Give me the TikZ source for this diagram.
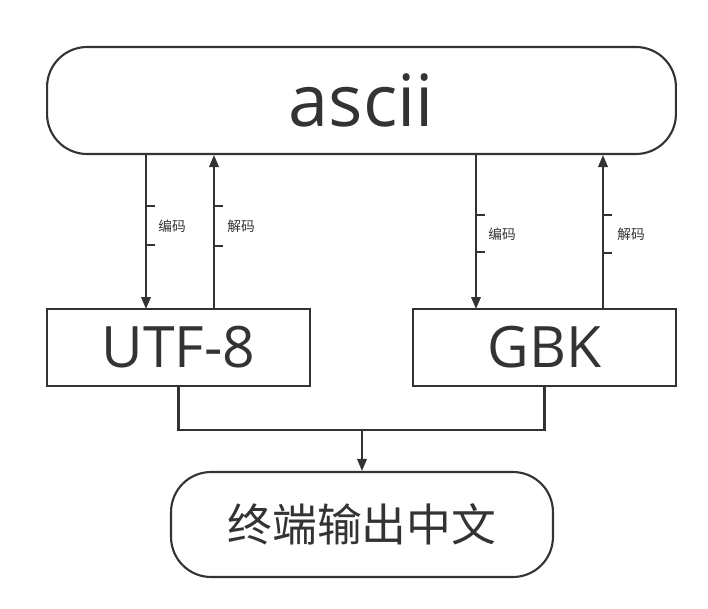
\documentclass[tikz,border=0pt]{standalone}
\usepackage{fontspec}
\setmainfont{Open Sans}
\newfontfamily\cjk{Noto Sans CJK SC}
\usetikzlibrary{arrows.meta}
\definecolor{ink}{HTML}{333333}
\tikzset{
	base/.style={draw=ink, line width=1.2pt, text=ink, inner sep=0pt},
	roundbox/.style={base, rounded corners=0.8cm},
	codebox/.style={base},
	conn/.style={draw=ink, line width=1.2pt},
	arr/.style={conn, -{Triangle[length=0.24cm, width=0.19cm]}},
	tag/.style={text=ink, font=\cjk\fontsize{7.8pt}{9pt}\selectfont, anchor=west, inner sep=0pt}
}
\begin{document}
\begin{tikzpicture}[x=0.02cm, y=-0.02cm]
			%%%%% START %%%%%
			\useasboundingbox (0, 0) rectangle (708, 609);
			
			\node[roundbox, minimum width=12.58cm, minimum height=2.14cm, font=\fontsize{41pt}{45pt}\selectfont] (ascii) at (361.5, 100.5) {ascii};
			
			\node[codebox, minimum width=5.26cm, minimum height=1.54cm, font=\fontsize{32.5pt}{36pt}\selectfont] (utf) at (178.5, 347.5) {UTF-8};
			\node[codebox, minimum width=5.26cm, minimum height=1.54cm, font=\fontsize{32.5pt}{36pt}\selectfont] (gbk) at (544.5, 347.5) {GBK};
			
			\node[roundbox, minimum width=7.64cm, minimum height=2.1cm, font=\cjk\fontsize{25.5pt}{30pt}\selectfont] (term) at (362, 524.5) {终端输出中文};
			
			% ascii <-> utf-8
			\coordinate (ue) at (146, 309);
			\coordinate (ud) at (214, 309);
			\draw[arr] (ascii.south -| ue) -- (ue);
			\draw[arr] (ud) -- (ascii.south -| ud);
			
			% ascii <-> gbk
			\coordinate (ge) at (476, 309);
			\coordinate (gd) at (603, 309);
			\draw[arr] (ascii.south -| ge) -- (ge);
			\draw[arr] (gd) -- (ascii.south -| gd);
			
			% labels with small ticks
			\node[tag] (ue-lb) at (158, 226) {编码};
			\draw[conn] (146, 206) -- ++(9, 0);
			\draw[conn] (146, 245) -- ++(9, 0);
			
			\node[tag] (ud-lb) at (227, 226) {解码};
			\draw[conn] (214, 206) -- ++(9, 0);
			\draw[conn] (214, 246) -- ++(9, 0);
			
			\node[tag] (ge-lb) at (488, 234) {编码};
			\draw[conn] (476, 215) -- ++(9, 0);
			\draw[conn] (476, 252) -- ++(9, 0);
			
			\node[tag] (gd-lb) at (617, 234) {解码};
			\draw[conn] (603, 215) -- ++(9, 0);
			\draw[conn] (603, 253) -- ++(9, 0);
			
			% both into the terminal
			\coordinate (join) at (362, 430);
			\draw[conn] (utf.south) -- (utf.south |- join) -- (gbk.south |- join) -- (gbk.south);
			\draw[arr] (join) -- (term.north);
			
			%%%%% END %%%%%
		\end{tikzpicture}
\end{document}
